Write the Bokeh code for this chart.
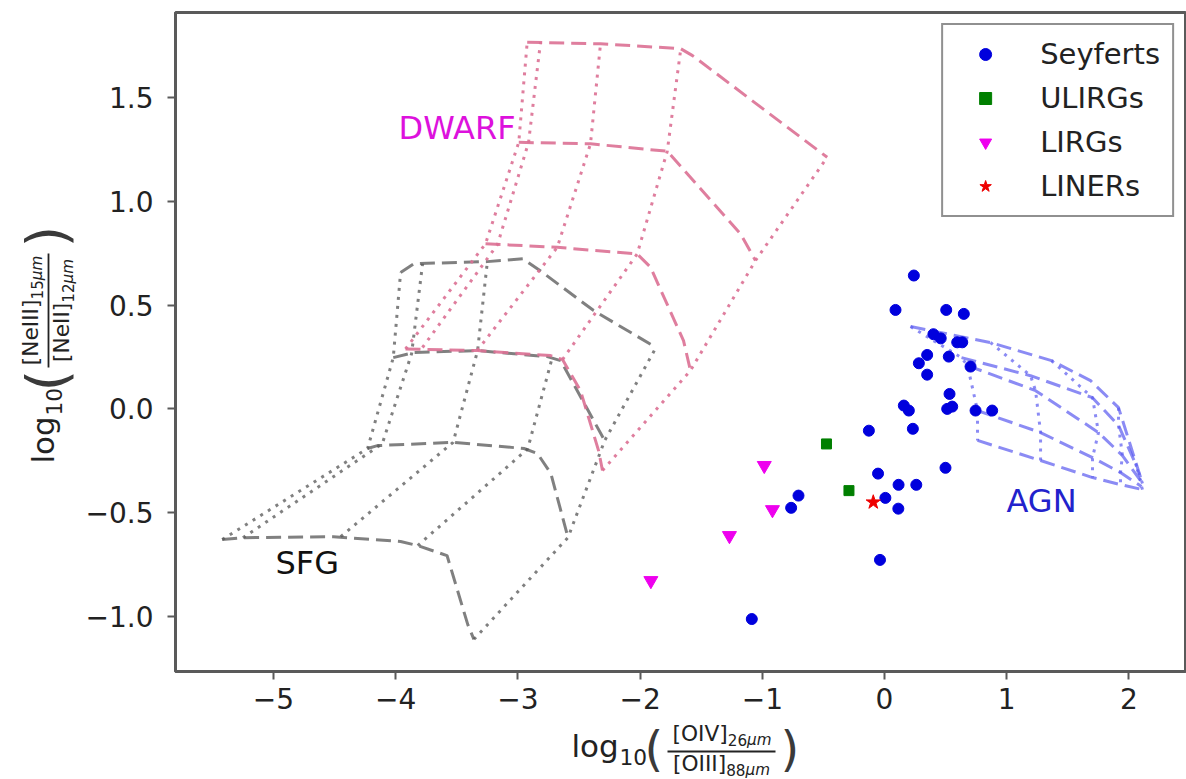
import numpy as np
from bokeh.plotting import figure
from bokeh.layouts import row, column
from bokeh.models import Range1d, FixedTicker, Label, Legend, LegendItem
from bokeh.embed import file_html
from bokeh.resources import INLINE

FONT = "DejaVu Sans"

# ---------------- data ----------------
x_ticks = [-5, -4, -3, -2, -1, 0, 1, 2]
x_tick_labels = ["−5", "−4", "−3", "−2", "−1", "0", "1", "2"]
y_ticks = [-1.0, -0.5, 0.0, 0.5, 1.0, 1.5]
y_tick_labels = ["−1.0", "−0.5", "0.0", "0.5", "1.0", "1.5"]

seyfert_x = [0.240, 0.090, 0.505, 0.649, 0.40, 0.46, 0.595, 0.636, 0.349, 0.281,
             0.526, 0.349, 0.704, 0.532, 0.158, 0.199, 0.513, 0.554, 0.745, 0.881,
             -0.128, 0.232, 0.499, -0.053, 0.115, 0.260, 0.007, 0.113, -0.037,
             -0.704, -0.764, -1.086]
seyfert_y = [0.643, 0.477, 0.477, 0.458, 0.36, 0.34, 0.321, 0.321, 0.260, 0.220,
             0.252, 0.165, 0.204, 0.072, 0.016, -0.008, 0.000, 0.011, -0.008, -0.008,
             -0.105, -0.096, -0.284, -0.312, -0.366, -0.366, -0.429, -0.481, -0.728,
             -0.418, -0.477, -1.013]
ulirg_x = [-0.475, -0.291]
ulirg_y = [-0.169, -0.394]
lirg_x = [-0.984, -0.917, -1.269, -1.912]
lirg_y = [-0.273, -0.486, -0.611, -0.828]
liner_x = [-0.092]
liner_y = [-0.450]

# SFG model grid: dashed rows, dotted columns
sfg_row_x = [[-3.96, -3.85, -3.25, -2.96, -2.82, -2.38, -1.87],
             [-4.02, -3.85, -3.33, -2.76, -2.65, -2.29],
             [-4.23, -4.15, -3.53, -2.95, -2.84, -2.73, -2.59],
             [-5.42, -5.25, -4.51, -3.96, -3.82, -3.58, -3.41, -3.36]]
sfg_row_y = [[0.657, 0.700, 0.710, 0.724, 0.667, 0.474, 0.296],
             [0.247, 0.272, 0.281, 0.252, 0.233, -0.153],
             [-0.191, -0.177, -0.161, -0.191, -0.215, -0.312, -0.620],
             [-0.630, -0.621, -0.616, -0.639, -0.659, -0.707, -1.040, -1.111]]
sfg_col_x = [[-5.42, -4.23, -4.02, -3.96],
             [-5.25, -4.11, -3.87, -3.78],
             [-4.45, -3.53, -3.33, -3.25],
             [-3.82, -2.92, -2.72],
             [-3.36, -2.59, -2.29, -1.87]]
sfg_col_y = [[-0.630, -0.191, 0.247, 0.657],
             [-0.621, -0.168, 0.266, 0.700],
             [-0.616, -0.161, 0.281, 0.710],
             [-0.659, -0.193, 0.245],
             [-1.111, -0.620, -0.153, 0.296]]

# DWARF model grid
dwarf_row_x = [[-2.924, -2.324, -1.669, -1.571, -0.469],
               [-2.993, -2.406, -1.778, -1.178, -1.056],
               [-3.265, -2.678, -2.024, -1.915, -1.645, -1.588],
               [-3.920, -3.333, -2.733, -2.635, -2.488, -2.340, -2.308]]
dwarf_row_y = [[1.768, 1.760, 1.737, 1.703, 1.213],
               [1.285, 1.278, 1.242, 0.844, 0.715],
               [0.796, 0.779, 0.747, 0.683, 0.329, 0.185],
               [0.289, 0.281, 0.257, 0.238, 0.088, -0.201, -0.297]]
dwarf_col_x = [[-3.920, -3.265, -2.993, -2.924],
               [-3.781, -3.167, -2.913, -2.815],
               [-3.333, -2.678, -2.406, -2.324],
               [-2.635, -2.024, -1.778, -1.669],
               [-2.308, -1.588, -1.056, -0.469]]
dwarf_col_y = [[0.289, 0.796, 1.285, 1.768],
               [0.296, 0.792, 1.284, 1.768],
               [0.281, 0.779, 1.278, 1.760],
               [0.238, 0.747, 1.242, 1.728],
               [-0.297, 0.185, 0.715, 1.213]]

# AGN model grid
agn_row_x = [[0.213, 0.867, 1.367, 1.686, 1.915, 2.111],
             [0.630, 1.195, 1.702, 1.915, 2.054],
             [0.679, 1.236, 1.751, 1.947, 2.095],
             [0.761, 1.277, 1.702, 1.931, 2.103],
             [0.761, 1.277, 1.702, 1.931, 2.111]]
agn_row_y = [[0.397, 0.320, 0.233, 0.136, 0.006, -0.360],
             [0.247, 0.160, 0.054, -0.080, -0.264],
             [0.209, 0.088, -0.114, -0.225, -0.346],
             [-0.008, -0.114, -0.235, -0.307, -0.374],
             [-0.152, -0.249, -0.331, -0.365, -0.389]]
agn_top_index = [0, 1, 2, 4, 5]
agn_col_x = [[agn_row_x[0][agn_top_index[i]]] + [r[i] for r in agn_row_x[1:]] for i in range(5)]
agn_col_y = [[agn_row_y[0][agn_top_index[i]]] + [r[i] for r in agn_row_y[1:]] for i in range(5)]

# ---------------- layout geometry ----------------
W, H = 1186, 779
YLAB_W = 80               # width of the left strip holding the y label
MAIN_W = W - YLAB_W
MAIN_H = 720
FL, FR, FT, FB = 175, 1185, 12, 671   # frame edges in page pixels
XL, XR = -5.802, 2.463
YB, YT = -1.266, 1.911
BASE_FIX = 0.36           # label anchor correction (fraction of font size)

p = figure(width=MAIN_W, height=MAIN_H, x_range=Range1d(XL, XR), y_range=Range1d(YB, YT),
           output_backend="svg", toolbar_location=None, frame_align=False,
           min_border_left=FL - YLAB_W, min_border_right=YLAB_W + MAIN_W - FR,
           min_border_top=FT, min_border_bottom=MAIN_H - FB)
p.background_fill_color = "white"
p.border_fill_color = "white"
p.grid.visible = False
p.outline_line_color = "#5a5a5a"
p.outline_line_width = 3

def px2x(px):
    return XL + (px - FL) / (FR - FL) * (XR - XL)

def py2y(py):
    return YT - (py - FT) / (FB - FT) * (YT - YB)

AXC = "#5a5a5a"
for ax, ticks, labels in ((p.xaxis[0], x_ticks, x_tick_labels), (p.yaxis[0], y_ticks, y_tick_labels)):
    ax.ticker = FixedTicker(ticks=ticks)
    ax.major_label_overrides = {t: l for t, l in zip(ticks, labels)}
    ax.axis_line_color = AXC
    ax.axis_line_width = 3
    ax.major_tick_line_color = AXC
    ax.major_tick_line_width = 2
    ax.major_tick_out = 8
    ax.major_tick_in = 0
    ax.minor_tick_line_color = None
    ax.major_label_text_font = FONT
    ax.major_label_text_font_size = "28px"
    ax.major_label_text_color = "#222222"
p.xaxis.major_label_standoff = 8
p.yaxis.major_label_standoff = 14

DASH = "15 7"
DOT = "3 6"

def grid(rx, ry, cx, cy, color, alpha, width):
    p.multi_line(xs=rx, ys=ry, line_color=color, line_alpha=alpha,
                 line_width=width, line_dash=DASH)
    p.multi_line(xs=cx, ys=cy, line_color=color, line_alpha=alpha,
                 line_width=width, line_dash=DOT)

grid(sfg_row_x, sfg_row_y, sfg_col_x, sfg_col_y, "#555555", 0.75, 3)
grid(dwarf_row_x, dwarf_row_y, dwarf_col_x, dwarf_col_y, "#db7093", 0.9, 3)
grid(agn_row_x, agn_row_y, agn_col_x, agn_col_y, "#5a5af0", 0.7, 3)

r_sey = p.scatter(seyfert_x, seyfert_y, marker="circle", size=11, fill_color="#0000dd", line_color="#0000dd")
r_uli = p.scatter(ulirg_x, ulirg_y, marker="square", size=10, fill_color="#007f00", line_color="#007f00")
r_lir = p.scatter(lirg_x, lirg_y, marker="inverted_triangle", size=14, fill_color="#ee00ee", line_color="#ee00ee")
r_lin = p.scatter(liner_x, liner_y, marker="star", size=15, fill_color="#ee0000", line_color="#ee0000")

# region labels (page-pixel baseline targets)
for txt, px, py, col in (("DWARF", 398, 139, "#dd11dd"), ("SFG", 275, 574, "#111111"), ("AGN", 1006, 512, "#2222cc")):
    p.add_layout(Label(x=px2x(px), y=py2y(py - BASE_FIX * 32), text=txt, text_font=FONT,
                       text_font_size="32px", text_color=col, text_align="left",
                       text_baseline="alphabetic"))

legend = Legend(items=[LegendItem(label="Seyferts", renderers=[r_sey]),
                       LegendItem(label="ULIRGs", renderers=[r_uli]),
                       LegendItem(label="LIRGs", renderers=[r_lir]),
                       LegendItem(label="LINERs", renderers=[r_lin])],
                location="top_right")
legend.label_text_font = FONT
legend.label_text_font_size = "29px"
legend.label_text_color = "#222222"
legend.glyph_width = 60
legend.glyph_height = 30
legend.label_height = 30
legend.spacing = 10
legend.padding = 12
legend.label_standoff = 25
legend.margin = 11
legend.border_line_color = "#222222"
legend.border_line_width = 2
legend.background_fill_alpha = 1.0
p.add_layout(legend)

# ---------------- axis label strips (math-style fractions as real text) ----------------
def strip(w, h, x0, y0):
    f = figure(width=w, height=h, x_range=Range1d(x0, x0 + w), y_range=Range1d(y0 + h, y0),
               output_backend="svg", toolbar_location=None, x_axis_type=None, y_axis_type=None,
               frame_align=False, min_border=0, min_border_left=0, min_border_right=0,
               min_border_top=0, min_border_bottom=0)
    f.grid.visible = False
    f.outline_line_color = None
    f.background_fill_color = "white"
    f.border_fill_color = "white"
    return f

xlab = strip(MAIN_W, H - MAIN_H, YLAB_W, MAIN_H)
ylab = strip(YLAB_W, H, 0, 0)

# (text, along-offset, perpendicular-offset, font px, style)
x_parts = [("log", 0, 0, 31, "normal"), ("10", 48, 7, 21.7, "normal"), ("(", 73, 9, 48, "normal"),
           ("[OIV]", 101, -16, 21.7, "normal"), ("26", 156.3, -12, 15.2, "normal"),
           ("μm", 175.6, -12, 15.2, "italic"),
           ("[OIII]", 101.5, 14, 21.7, "normal"), ("88", 154.7, 18, 15.2, "normal"),
           ("μm", 174, 18, 15.2, "italic"), (")", 209, 9, 48, "normal")]
x_bar = (96, 204, -6)
y_parts = [("log", 0, 0, 31, "normal"), ("10", 48, 7, 21.7, "normal"), ("(", 72, 12, 56, "normal"),
           ("[NeIII]", 98.3, -16, 21.7, "normal"), ("15", 164, -12, 15.2, "normal"),
           ("μm", 183.3, -12, 15.2, "italic"),
           ("[NeII]", 101.5, 15, 21.7, "normal"), ("12", 160.8, 19, 15.2, "normal"),
           ("μm", 180.1, 19, 15.2, "italic"), (")", 216, 12, 56, "normal")]
y_bar = (96, 210, -6)

def compose(f, parts, bar, start, base, rotated):
    for txt, d, q, size, style in parts:
        q = q - BASE_FIX * size
        if rotated:
            x, y, ang = base + q, start - d, np.pi / 2
        else:
            x, y, ang = start + d, base + q, 0.0
        f.add_layout(Label(x=x, y=y, text=txt, angle=ang, text_font=FONT,
                           text_font_size=f"{size}px", text_font_style=style,
                           text_color="#222222" if size < 40 else "#3a3a3a",
                           text_align="left", text_baseline="alphabetic"))
    b0, b1, q = bar
    if rotated:
        f.line(x=[base + q, base + q], y=[start - b0, start - b1], line_color="#222222", line_width=1.8)
    else:
        f.line(x=[start + b0, start + b1], y=[base + q, base + q], line_color="#222222", line_width=1.8)

compose(xlab, x_parts, x_bar, 571, 757, False)
compose(ylab, y_parts, y_bar, 463, 54, True)

layout = row(ylab, column(p, xlab, spacing=0), spacing=0)
open("out.html", "w").write(file_html(layout, INLINE))
